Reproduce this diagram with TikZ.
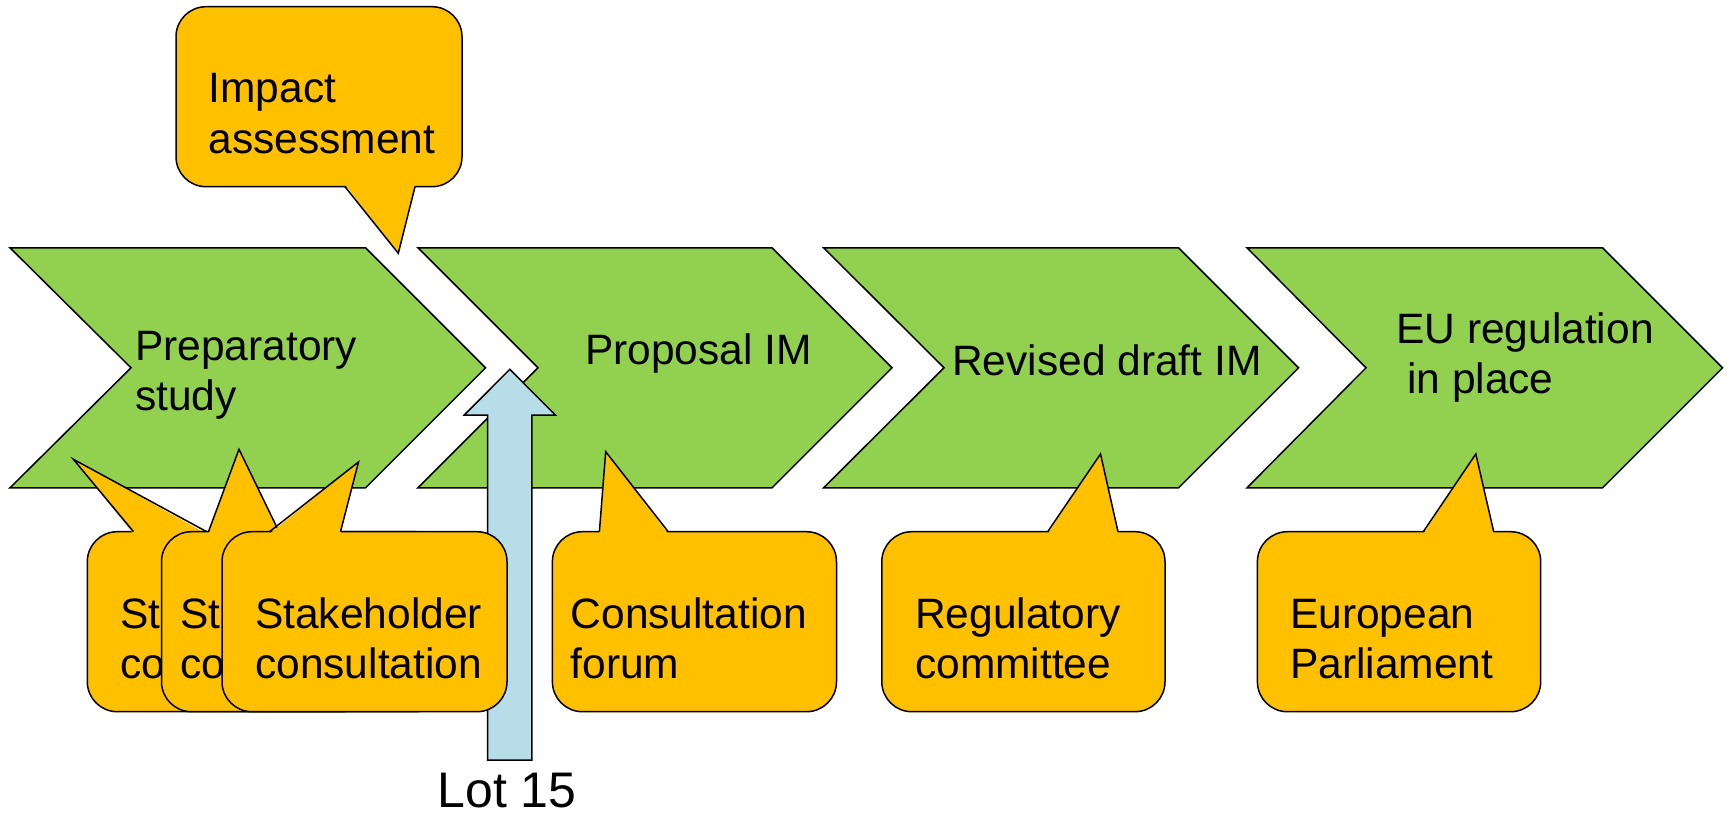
\documentclass[tikz,border=0pt]{standalone}
\usepackage{fontspec}
\setmainfont{Liberation Sans}
\definecolor{stagegreen}{HTML}{92D050}
\definecolor{bubbleorange}{HTML}{FFC000}
\definecolor{lotblue}{HTML}{B7DEE8}

% two left-aligned lines, base anchored on the first line
\newcommand{\twolines}[2]{\begin{tabular}[t]{@{}l@{}}#1\\#2\end{tabular}}

\tikzset{
  outline/.style={draw=black, line width=1.5pt},
  stage/.style={outline, fill=stagegreen, line join=miter},
  bubble/.style={outline, fill=bubbleorange, rounded corners=30pt},
  txt/.style={anchor=base west, inner sep=0pt, font=\fontsize{42.5}{50.5}\selectfont},
}

% chevron: left x, body right x, notch x, top y, bottom y
\newcommand{\chevron}[5]{%
  \filldraw[stage] (#1,#4) -- (#2,#4) -- ({#2+(#5-#4)/2},{(#4+#5)/2}) --
    (#2,#5) -- (#1,#5) -- (#3,{(#4+#5)/2}) -- cycle;}

% callout with its pointer on the top edge:
% box xl, yt, xr, yb; pointer base left x, tip x, tip y, base right x
\newcommand{\callout}[8]{%
  \filldraw[bubble] (#1,#2) rectangle (#3,#4);
  \fill[bubbleorange] (#5,#2+2.2) -- (#6,#7) -- (#8,#2+2.2) -- cycle;
  \draw[outline, line join=miter] (#5,#2) -- (#6,#7) -- (#8,#2);}

% callout with its pointer on the bottom edge (same arguments)
\newcommand{\calloutdown}[8]{%
  \filldraw[bubble] (#1,#2) rectangle (#3,#4);
  \fill[bubbleorange] (#5,#4-2.2) -- (#6,#7) -- (#8,#4-2.2) -- cycle;
  \draw[outline, line join=miter] (#5,#4) -- (#6,#7) -- (#8,#4);}

\begin{document}
\begin{tikzpicture}[x=1pt, y=-1pt]
\useasboundingbox (0,0) rectangle (1727,813);

% process stages
\chevron{10}{365.6}{131}{247.8}{487.8}
\chevron{418}{772}{538}{247.8}{487.8}
\chevron{823.6}{1178.5}{944}{247.8}{487.8}
\chevron{1247}{1602.5}{1366}{247.8}{487.8}

\node[txt] (prep) at (135,360) {\twolines{Preparatory}{study}};
\node[txt] (prop) at (585,364) {Proposal IM};
\node[txt] (rev) at (952,375) {Revised draft IM};
\node[txt] (eureg) at (1396,343) {\twolines{EU regulation}{\hspace*{11pt}in place}};

% Lot 15 arrow
\filldraw[outline, fill=lotblue, line join=miter]
  (487.7,760) -- (487.7,415) -- (464.3,415) -- (509.8,369.3) --
  (555.3,415) -- (531.9,415) -- (531.9,760) -- cycle;
\node[anchor=base, inner sep=0pt, font=\fontsize{50}{58}\selectfont] (lot) at (507,807) {Lot 15};

% impact assessment callout
\calloutdown{176}{6.7}{462}{186.7}{345}{398.3}{253.3}{415}
\node[txt] (impact) at (208.5,102.7) {\twolines{Impact}{assessment}};

% stacked stakeholder callouts
\callout{87.3}{531.7}{371.3}{711.7}{133.5}{73.4}{459.3}{206.7}
\node[txt] (stake1) at (120,628.3) {\twolines{Stakeholder}{consultation}};
\callout{161.5}{531.7}{445.5}{711.7}{208.5}{239}{449.3}{279}
\node[txt] (stake2) at (180,628.3) {\twolines{Stakeholder}{consultation}};
\callout{222}{531.7}{507}{711.7}{269.5}{358.5}{462}{340.5}
\node[txt] (stake3) at (255,628.3) {\twolines{Stakeholder}{consultation}};

% remaining callouts
\callout{552.4}{531.7}{836.5}{711.7}{599.4}{605.7}{451.7}{668.2}
\node[txt] (forum) at (570.5,628.3) {\twolines{Consultation}{forum}};
\callout{881.8}{531.7}{1165}{711.7}{1047.7}{1100.5}{454}{1118}
\node[txt] (regcom) at (915,628.3) {\twolines{Regulatory}{committee}};
\callout{1257.4}{531.7}{1540.7}{711.7}{1423.3}{1475.8}{454}{1493.7}
\node[txt] (parl) at (1290,628.3) {\twolines{European}{Parliament}};
\end{tikzpicture}
\end{document}
